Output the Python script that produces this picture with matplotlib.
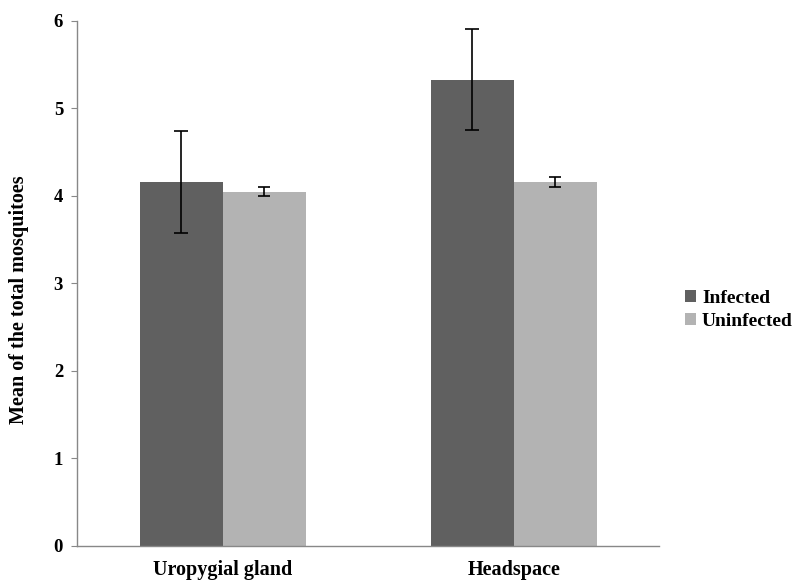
import numpy as np
import matplotlib
matplotlib.use("Agg")
import matplotlib.pyplot as plt

# valores
categorias = ["Uropygial gland", "Headspace"]
infectados = [4.16, 5.33]
infectados_err = [0.58, 0.58]
no_infectados = [4.05, 4.16]
no_infectados_err = [0.05, 0.06]
yticks = [0, 1, 2, 3, 4, 5, 6]

plt.rcParams["font.family"] = ["Liberation Serif", "DejaVu Serif"]
plt.rcParams["font.weight"] = "bold"

fig = plt.figure(figsize=(7.96, 5.83), dpi=100)
ax = fig.add_axes([0.0967, 0.0635, 0.7315, 0.9005])

x = np.arange(len(categorias))
ancho = 0.285
ax.bar(x - ancho / 2, infectados, ancho, color="#606060", label="Infected",
       yerr=infectados_err, error_kw=dict(ecolor="black", elinewidth=1.2, capsize=5, capthick=1.2))
ax.bar(x + ancho / 2, no_infectados, ancho, color="#b3b3b3", label="Uninfected",
       yerr=no_infectados_err, error_kw=dict(ecolor="black", elinewidth=1.2, capsize=4, capthick=1.2))

ax.set_xlim(-0.5, 1.5)
ax.set_ylim(0, 6)
ax.set_yticks(yticks)
ax.set_xticks(x)
ax.set_xticklabels(categorias, fontsize=14.5, fontweight="bold")
ax.tick_params(axis="x", length=0, pad=10)
ax.tick_params(axis="y", length=4, color="#888888", labelsize=13.5, pad=6)
for lab in ax.get_yticklabels():
    lab.set_fontweight("bold")

for lado in ["top", "right"]:
    ax.spines[lado].set_visible(False)
for lado in ["left", "bottom"]:
    ax.spines[lado].set_color("#888888")
    ax.spines[lado].set_linewidth(1)

ax.set_ylabel("Mean of the total mosquitoes", fontsize=14.5, fontweight="bold")
ax.yaxis.set_label_coords(-0.083, 0.47)

ax.legend(loc="center left", bbox_to_anchor=(1.015, 0.45), frameon=False,
          prop={"size": 14, "weight": "bold"}, handlelength=0.55, handleheight=0.55,
          handletextpad=0.3, labelspacing=0.3)

fig.savefig("out.png", dpi=100)
